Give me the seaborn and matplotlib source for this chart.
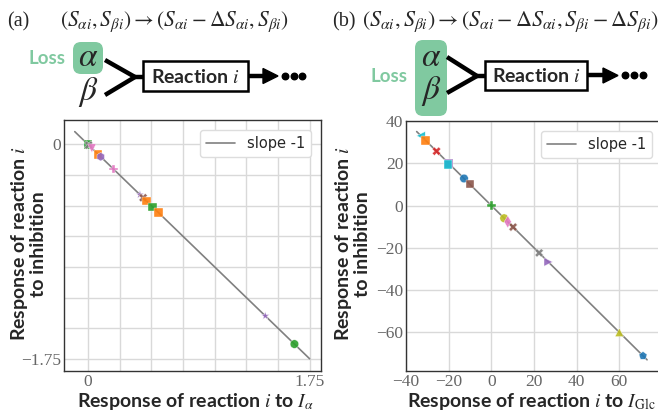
import numpy as np
import pandas as pd
import matplotlib
matplotlib.use("Agg")
import matplotlib.pyplot as plt
import seaborn as sns
from matplotlib.patches import FancyBboxPatch, Rectangle, Polygon
from matplotlib.ticker import FixedLocator, FixedFormatter

# ---------------- data ----------------
# panel (a): response to I_alpha vs response to inhibition
a_resp_Ia = [0.0, 0.0, 0.005, 0.03, 0.08, 0.10, 0.20, 0.41, 0.435, 0.46, 0.51, 0.555, 1.40, 1.63]
a_resp_inh = [0.0, 0.0, -0.005, -0.03, -0.08, -0.10, -0.20, -0.41, -0.435, -0.46, -0.51, -0.555, -1.40, -1.63]
a_colors = ["tab:blue", "tab:green", "tab:gray", "tab:pink", "tab:orange", "tab:purple", "tab:pink",
            "tab:purple", "tab:brown", "tab:orange", "tab:green", "tab:orange", "tab:purple", "tab:green"]
a_markers = ["o", "s", "X", "v", "s", "h", "P", "*", "X", "s", "s", "s", "*", "o"]
a_line_x = [-0.105, 1.75]
a_line_y = [0.105, -1.75]

# panel (b): response to I_Glc vs response to inhibition
b_resp_Iglc = [-33.0, -30.9, -25.7, -20.0, -20.3, -12.8, -10.1, 0.1, 6.0, 7.7, 10.2, 22.4, 26.7, 60.0, 71.1]
b_resp_inh = [33.0, 30.9, 25.7, 20.0, 19.3, 12.8, 10.1, -0.1, -6.0, -7.7, -10.2, -22.4, -26.7, -60.0, -71.1]
b_colors = ["tab:cyan", "tab:orange", "tab:red", "tab:purple", "tab:cyan", "tab:blue", "tab:brown",
            "tab:green", "tab:olive", "tab:pink", "tab:brown", "tab:gray", "tab:purple", "tab:olive", "tab:blue"]
b_markers = ["<", "s", "X", "s", "s", "o", "s", "P", "o", "d", "X", "X", ">", "^", "p"]
b_line_x = [-35.0, 73.0]
b_line_y = [35.0, -73.0]

a_ticks = [0, 0.25, 0.5, 0.75, 1.0, 1.25, 1.5, 1.75]
a_tick_labels = ["0", "", "", "", "", "", "", "1.75"]
a_yticks = [0, -0.25, -0.5, -0.75, -1.0, -1.25, -1.5, -1.75]
a_ytick_labels = ["0", "", "", "", "", "", "", "\u22121.75"]
b_xticks = [-40, -20, 0, 20, 40, 60]
b_xtick_labels = ["\u221240", "\u221220", "0", "20", "40", "60"]
b_yticks = [40, 20, 0, -20, -40, -60]
b_ytick_labels = ["40", "20", "0", "\u221220", "\u221240", "\u221260"]

# ---------------- style ----------------
sns.set_style("white")
plt.rcParams["font.family"] = ["Lato", "DejaVu Sans"]
plt.rcParams["mathtext.fontset"] = "stix"

W, H = 658, 415
fig = plt.figure(figsize=(W / 100, H / 100), dpi=100)

GREEN = "#80c9a0"
SERIF = "Liberation Serif"
TICKCOL = "#666666"

# background axes in pixel coordinates for the diagrams
bg = fig.add_axes([0, 0, 1, 1])
bg.set_xlim(0, W)
bg.set_ylim(H, 0)
bg.axis("off")


def diagram(bg, label, lab_x, eq, eq_x, eq_fs, box, loss_xy, alpha_xy, beta_xy, v_from, v_join, rbox, arrow, dots):
    bg.text(lab_x, 22, label, fontsize=14.5, family=SERIF, ha="left", va="center")
    bg.text(eq_x, 22, eq, fontsize=eq_fs, ha="left", va="center")
    x0, y0, x1, y1 = box
    bg.add_patch(FancyBboxPatch((x0, y0), x1 - x0, y1 - y0,
                                boxstyle="round,pad=0,rounding_size=8",
                                fc=GREEN, ec="none", zorder=1))
    bg.text(loss_xy[0], loss_xy[1], "Loss",
            color=GREEN, fontsize=13.5, weight="bold", ha="center", va="center")
    bg.text(alpha_xy[0], alpha_xy[1], r"$\alpha$", fontsize=24, ha="center", va="center", zorder=3)
    bg.text(beta_xy[0], beta_xy[1], r"$\beta$", fontsize=24, ha="center", va="center", zorder=3)
    jx, jy = v_join
    for (fx, fy) in v_from:
        bg.plot([fx, jx], [fy, jy], color="black", lw=3.2, solid_capstyle="butt", zorder=2)
    rx0, ry0, rx1, ry1 = rbox
    bg.plot([jx - 2, rx0], [jy, jy], color="black", lw=3.2, zorder=2)
    bg.add_patch(Rectangle((rx0, ry0), rx1 - rx0, ry1 - ry0, fc="white", ec="black", lw=1.8, zorder=3))
    bg.text((rx0 + rx1) / 2, (ry0 + ry1) / 2 + 1, r"Reaction $i$", fontsize=14, weight="bold",
            ha="center", va="center", zorder=4)
    ax0, ahead, ax1 = arrow
    my = (ry0 + ry1) / 2
    bg.plot([rx1, ahead + 1], [my, my], color="black", lw=3.2, zorder=2)
    bg.add_patch(Polygon([[ahead, my - 7.5], [ahead, my + 7.5], [ax1, my]], closed=True,
                         fc="black", ec="black", zorder=2))
    bg.scatter(dots, [my] * 3, s=22, color="black", zorder=2)


diagram(bg, "(a)", 7,
        r"$(S_{\alpha i}, S_{\beta i}) \rightarrow (S_{\alpha i} - \Delta S_{\alpha i}, S_{\beta i})$", 60, 15.5,
        (73, 42, 103, 74), (47, 59), (88, 57), (88, 92),
        [(105, 60), (105, 95)], (135, 77), (143, 61, 248, 91), (248, 263, 278), [285, 293.5, 302])

diagram(bg, "(b)", 332,
        r"$(S_{\alpha i}, S_{\beta i}) \rightarrow (S_{\alpha i} - \Delta S_{\alpha i}, S_{\beta i} - \Delta S_{\beta i})$", 362, 15.9,
        (415, 40, 447, 116), (389, 76), (431, 57), (431, 91),
        [(447, 57), (447, 93)], (477, 76), (485, 61, 587, 90), (587, 603, 618), [625, 634, 643])


def px_rect(l, t, r, b):
    return [l / W, 1 - b / H, (r - l) / W, (b - t) / H]


def style_axes(ax):
    ax.grid(True, color="#d9d9d9", lw=1.0)
    ax.set_axisbelow(True)
    for s in ax.spines.values():
        s.set_color("#333333")
        s.set_linewidth(1.0)
    ax.tick_params(axis="both", which="major", length=3, width=0.8, color="#333333",
                   labelcolor=TICKCOL, labelsize=12.5, direction="in", pad=2)
    for lab in ax.get_xticklabels() + ax.get_yticklabels():
        lab.set_family(SERIF)


def scatter_panel(ax, xs, ys, colors, markers, lx, ly):
    df = pd.DataFrame({"x": xs, "y": ys, "pid": [f"p{i}" for i in range(len(xs))]})
    pal = {f"p{i}": c for i, c in enumerate(colors)}
    mk = {f"p{i}": m for i, m in enumerate(markers)}
    sns.lineplot(x=lx, y=ly, ax=ax, color="#808080", lw=1.2, label="slope -1", zorder=2)
    sns.scatterplot(data=df, x="x", y="y", hue="pid", style="pid", palette=pal, markers=mk,
                    s=38, linewidth=0.3, edgecolor="white", alpha=0.9, ax=ax, legend=False, zorder=3)
    ax.legend(loc="upper right", prop={"family": "DejaVu Sans", "size": 10.5},
              frameon=True, fancybox=True, edgecolor="#dddddd", framealpha=1.0,
              borderaxespad=0.7)
    ax.set_xlabel("")
    ax.set_ylabel("")


# ---------- panel (a) ----------
axa = fig.add_axes(px_rect(64, 120, 321, 371))
scatter_panel(axa, a_resp_Ia, a_resp_inh, a_colors, a_markers, a_line_x, a_line_y)
axa.set_xlim(-0.19, 1.84)
axa.set_ylim(-1.85, 0.2)
axa.xaxis.set_major_locator(FixedLocator(a_ticks))
axa.xaxis.set_major_formatter(FixedFormatter(a_tick_labels))
axa.yaxis.set_major_locator(FixedLocator(a_yticks))
axa.yaxis.set_major_formatter(FixedFormatter(a_ytick_labels))
style_axes(axa)

# ---------- panel (b) ----------
axb = fig.add_axes(px_rect(406, 121, 662, 371))
scatter_panel(axb, b_resp_Iglc, b_resp_inh, b_colors, b_markers, b_line_x, b_line_y)
axb.set_xlim(-40, 80)
axb.set_ylim(-78.3, 40)
axb.xaxis.set_major_locator(FixedLocator(b_xticks))
axb.xaxis.set_major_formatter(FixedFormatter(b_xtick_labels))
axb.yaxis.set_major_locator(FixedLocator(b_yticks))
axb.yaxis.set_major_formatter(FixedFormatter(b_ytick_labels))
style_axes(axb)

# axis labels
LBL = dict(fontsize=14, weight="bold", ha="center", va="center")
fig.text(28 / W, 1 - 244 / H, "Response of reaction $i$\nto inhibition", rotation=90,
         multialignment="center", linespacing=0.95, **LBL)
fig.text(352 / W, 1 - 244 / H, "Response of reaction $i$\nto inhibition", rotation=90,
         multialignment="center", linespacing=0.95, **LBL)
fig.text(195 / W, 1 - 401 / H, r"Response of reaction $i$ to $I_\alpha$", **LBL)
fig.text(407 / W, 1 - 401 / H, r"Response of reaction $i$ to $I_{\mathrm{Glc}}$",
         fontsize=14, weight="bold", ha="left", va="center")

fig.savefig("out.png", dpi=100)
